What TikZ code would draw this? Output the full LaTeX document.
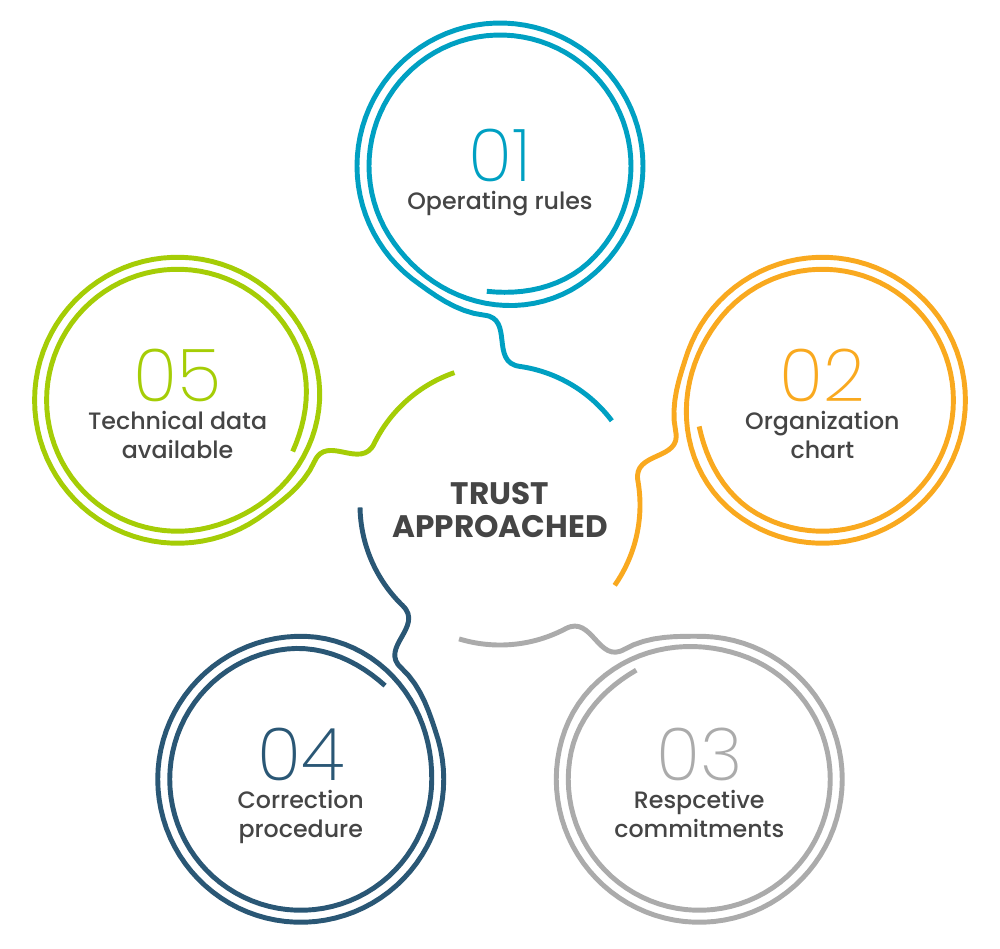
\documentclass[tikz,border=0pt]{standalone}
\usepackage{fontspec}
\setmainfont{Poppins}
\newfontfamily\numfont{Poppins ExtraLight}
\newfontfamily\lblfont{Poppins Medium}
\usetikzlibrary{positioning}

\definecolor{opBlue}{HTML}{00A0C2}
\definecolor{orgOrange}{HTML}{F9A91F}
\definecolor{comGrey}{HTML}{ABABAB}
\definecolor{corNavy}{HTML}{2A5775}
\definecolor{techGreen}{HTML}{A5CD06}
\definecolor{txtGrey}{HTML}{454545}

\tikzset{
  ring/.style={line width=2.8pt, line join=round},
  numtxt/.style={font=\numfont\fontsize{41.5}{41.5}\selectfont, inner sep=0pt},
  lbltxt/.style={font=\lblfont\fontsize{13.5}{16.4}\selectfont, text=txtGrey, align=center, inner sep=0pt},
  declare function={
    clampu(\u)=max(0,min(1,\u));
    smstep(\u)=clampu(\u)*clampu(\u)*(3-2*clampu(\u));
    ringrad(\u)=126+5*smstep(\u/48)+12*smstep((\u-310)/90)+7*smstep((\u-690)/30);
  }
}

\begin{document}
\begin{tikzpicture}[x=0.02cm, y=0.02cm]
  \useasboundingbox (-500,-443) rectangle (500,505);

  % five arms: arc round the middle, wave, double ring
  \foreach \col/\rot in {opBlue/0, orgOrange/-72, comGrey/-144, corNavy/144, techGreen/72}{
    \begin{scope}[rotate=\rot]
      \draw[ring, \col] (37:140) arc[start angle=37, end angle=82, radius=140]
        .. controls +(172:30) and +(354:30) .. ({150*cos(264)}, {339+150*sin(264)})
        -- plot[domain=720:0, samples=181, variable=\t] ({ringrad(\t)*cos(264+\t)}, {339+ringrad(\t)*sin(264+\t)});
    \end{scope}
  }

  % ring centres
  \coordinate (c1) at (90:339);
  \coordinate (c2) at (18:339);
  \coordinate (c3) at (-54:339);
  \coordinate (c4) at (-126:339);
  \coordinate (c5) at (162:339);

  % centre text
  \node[font=\bfseries\fontsize{17.7}{19.3}\selectfont, text=txtGrey, align=center] (core) at (0,-5) {TRUST\\APPROACHED};

  % numbers and labels
  \node[numtxt, text=opBlue] (n1) at ([yshift=0.22cm]c1) {01};
  \node[lbltxt, below=5pt of n1] (t1) {Operating rules};

  \node[numtxt, text=orgOrange] (n2) at ([yshift=0.5cm]c2) {02};
  \node[lbltxt, below=5pt of n2] (t2) {Organization\\chart};

  \node[numtxt, text=comGrey] (n3) at ([yshift=0.5cm]c3) {03};
  \node[lbltxt, below=5pt of n3] (t3) {Respcetive\\commitments};

  \node[numtxt, text=corNavy] (n4) at ([yshift=0.5cm]c4) {04};
  \node[lbltxt, below=5pt of n4] (t4) {Correction\\procedure};

  \node[numtxt, text=techGreen] (n5) at ([yshift=0.5cm]c5) {05};
  \node[lbltxt, below=5pt of n5] (t5) {Technical data\\available};
\end{tikzpicture}
\end{document}
